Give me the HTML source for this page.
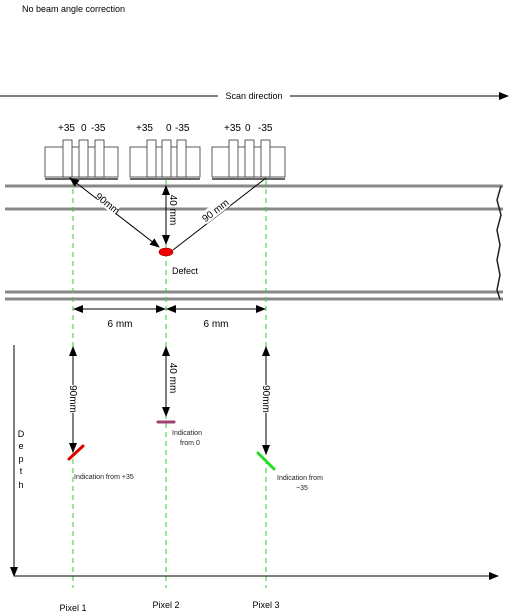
<!DOCTYPE html>
<html><head><meta charset="utf-8"><style>
html,body{margin:0;padding:0;background:#fff;width:513px;height:615px;overflow:hidden}
svg{display:block;font-family:"Liberation Sans",Arial,sans-serif}
</style></head><body>
<svg width="513" height="615" viewBox="0 0 513 615">
<defs>
<marker id="ah" markerWidth="10" markerHeight="8" refX="9" refY="4" orient="auto" markerUnits="userSpaceOnUse"><path d="M0,0 L10,4 L0,8 Z" fill="#000"/></marker>
<marker id="ahs" markerWidth="10" markerHeight="8" refX="1" refY="4" orient="auto" markerUnits="userSpaceOnUse"><path d="M10,0 L0,4 L10,8 Z" fill="#000"/></marker>
</defs>
<text x="22" y="12" font-size="9">No beam angle correction</text>

<g>
<line x1="0" y1="96" x2="218" y2="96" stroke="#000" stroke-width="1"/>
<line x1="290" y1="96" x2="508" y2="96" stroke="#000" stroke-width="1" marker-end="url(#ah)"/>
<text x="254" y="99" font-size="9" text-anchor="middle">Scan direction</text>
</g>

<g stroke="#333" stroke-width="0.8" fill="#fff">
<g>
<rect x="45" y="147" width="73" height="30"/><line x1="45" y1="179" x2="118" y2="179" stroke-width="1.5"/>
<rect x="63" y="140" width="9" height="37"/><rect x="79" y="140" width="9" height="37"/><rect x="95" y="140" width="9" height="37"/>
</g>
<g>
<rect x="130" y="147" width="70" height="30"/><line x1="130" y1="179" x2="200" y2="179" stroke-width="1.5"/>
<rect x="147" y="140" width="9" height="37"/><rect x="162" y="140" width="9" height="37"/><rect x="177" y="140" width="9" height="37"/>
</g>
<g>
<rect x="212" y="147" width="73" height="30"/><line x1="212" y1="179" x2="285" y2="179" stroke-width="1.5"/>
<rect x="229" y="140" width="9" height="37"/><rect x="245" y="140" width="9" height="37"/><rect x="261" y="140" width="9" height="37"/>
</g>
</g>
<g font-size="10" fill="#000">
<text x="58" y="131">+35</text><text x="81" y="131">0</text><text x="91" y="131">-35</text>
<text x="136" y="131">+35</text><text x="166" y="131">0</text><text x="175" y="131">-35</text>
<text x="224" y="131">+35</text><text x="245" y="131">0</text><text x="258" y="131">-35</text>
</g>

<g stroke="#888" stroke-width="3">
<line x1="5" y1="186" x2="503" y2="186"/>
<line x1="5" y1="209" x2="503" y2="209"/>
<line x1="5" y1="292" x2="503" y2="292"/>
<line x1="5" y1="299" x2="503" y2="299"/>
<polyline points="501,186 497,200 501,215 497,230 500,245 497,260 500,275 497,290 500,299" fill="none" stroke="#222" stroke-width="1.5"/>
</g>

<g stroke="#33cc33" stroke-width="1" stroke-dasharray="5,4">
<line x1="73" y1="180" x2="73" y2="588"/>
<line x1="166" y1="180" x2="166" y2="588"/>
<line x1="266" y1="180" x2="266" y2="588"/>
</g>

<g stroke="#000" stroke-width="1" fill="none">
<line x1="70" y1="178" x2="159" y2="247" marker-start="url(#ahs)" marker-end="url(#ah)"/>
<line x1="166" y1="186" x2="166" y2="244" marker-start="url(#ahs)" marker-end="url(#ah)"/>
<line x1="173" y1="250" x2="266" y2="178"/>
</g>
<rect x="96" y="197" width="24" height="12" fill="#fff" transform="rotate(38 108 203)"/>
<text x="108" y="207" font-size="10" text-anchor="middle" transform="rotate(38 108 203)">90mm</text>
<rect x="200" y="204" width="30" height="12" fill="#fff" transform="rotate(-38 215 210)"/>
<text x="215" y="214" font-size="10" text-anchor="middle" transform="rotate(-38 215 210)">90 mm</text>
<text x="170" y="210" font-size="10" text-anchor="middle" transform="rotate(90 170 210)">40 mm</text>

<ellipse cx="166" cy="252" rx="7" ry="4" fill="#e00" stroke="#900" stroke-width="0.6"/>
<text x="172" y="274" font-size="9">Defect</text>

<g stroke="#000" stroke-width="1">
<line x1="74" y1="309" x2="165" y2="309" marker-start="url(#ahs)" marker-end="url(#ah)"/>
<line x1="167" y1="309" x2="265" y2="309" marker-start="url(#ahs)" marker-end="url(#ah)"/>
</g>
<text x="120" y="327" font-size="10" text-anchor="middle">6 mm</text>
<text x="216" y="327" font-size="10" text-anchor="middle">6 mm</text>

<g stroke="#000" stroke-width="1">
<line x1="14" y1="345" x2="14" y2="576" marker-end="url(#ah)"/>
<line x1="14" y1="576" x2="498" y2="576" marker-end="url(#ah)"/>
</g>
<g font-size="9" text-anchor="middle">
<text x="21" y="437">D</text><text x="21" y="449">e</text><text x="21" y="462">p</text><text x="21" y="474">t</text><text x="21" y="488">h</text>
</g>

<g stroke="#000" stroke-width="1">
<line x1="73" y1="347" x2="73" y2="452" marker-start="url(#ahs)" marker-end="url(#ah)"/>
<line x1="166" y1="347" x2="166" y2="416" marker-start="url(#ahs)" marker-end="url(#ah)"/>
<line x1="266" y1="347" x2="266" y2="454" marker-start="url(#ahs)" marker-end="url(#ah)"/>
</g>
<rect x="67" y="385" width="12" height="28" fill="#fff"/>
<text x="73" y="399" font-size="10" text-anchor="middle" transform="rotate(90 73 399)" dy="3">90mm</text>
<text x="170" y="378" font-size="10" text-anchor="middle" transform="rotate(90 170 378)">40 mm</text>
<rect x="260" y="385" width="12" height="28" fill="#fff"/>
<text x="266" y="399" font-size="10" text-anchor="middle" transform="rotate(90 266 399)" dy="3">90mm</text>

<line x1="69" y1="459" x2="83" y2="446" stroke="#e00000" stroke-width="3" stroke-linecap="round"/>
<line x1="158" y1="422" x2="174" y2="422" stroke="#a04070" stroke-width="3" stroke-linecap="round"/>
<line x1="258" y1="453" x2="274" y2="469" stroke="#22dd22" stroke-width="3" stroke-linecap="round"/>

<g font-size="7" fill="#222">
<text x="74" y="479">Indication from +35</text>
<text x="172" y="435">Indication</text><text x="180" y="445">from 0</text>
<text x="277" y="480">Indication from</text><text x="296" y="490">−35</text>
</g>

<g font-size="9" text-anchor="middle">
<text x="73" y="611">Pixel 1</text>
<text x="166" y="608">Pixel 2</text>
<text x="266" y="608">Pixel 3</text>
</g>
</svg>
</body></html>
